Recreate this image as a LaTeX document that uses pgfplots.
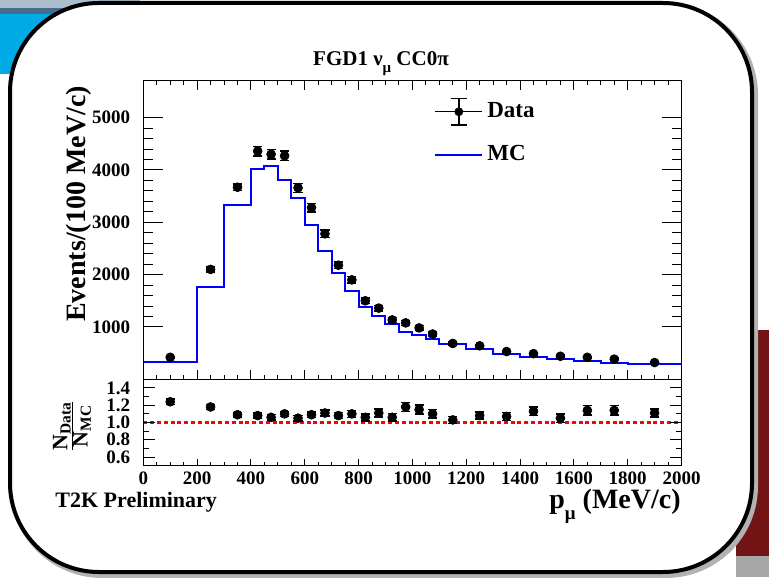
\documentclass[border=0pt]{standalone}
\usepackage{fontspec}
\setmainfont{Liberation Serif}
\usepackage{pgfplots}
\pgfplotsset{compat=1.18}

\definecolor{rootblue}{RGB}{0,0,255}
\definecolor{rootred}{RGB}{255,0,0}
\definecolor{bgcyan}{RGB}{0,170,230}
\definecolor{bgsteel}{RGB}{70,110,140}
\definecolor{bgred}{RGB}{115,20,20}

% data points: momentum, events/(100 MeV/c), error
\pgfplotstableread{
x y e
100 420 15
250 2100 46
350 3670 61
425 4360 93
475 4300 93
525 4270 92
575 3660 86
625 3280 81
675 2780 75
725 2180 66
775 1900 62
825 1500 55
875 1360 52
925 1135 48
975 1078 46
1025 982 44
1075 865 42
1150 685 26
1250 640 25
1350 530 23
1450 490 22
1550 440 21
1650 420 20
1750 385 20
1900 320 13
}\datatab

% MC histogram, left bin edges
\pgfplotstableread{
x y
0 340
200 1770
300 3330
400 4015
450 4070
500 3810
550 3460
600 2950
650 2460
700 2027
750 1695
800 1390
850 1217
900 1050
950 905
1000 850
1050 770
1100 670
1200 575
1300 485
1400 435
1500 395
1600 350
1700 318
1800 292
2000 292
}\mctab

% ratio data / MC
\pgfplotstableread{
x r e
100 1.24 0.03
250 1.18 0.03
350 1.09 0.025
425 1.08 0.03
475 1.06 0.03
525 1.10 0.03
575 1.05 0.03
625 1.09 0.03
675 1.11 0.035
725 1.08 0.035
775 1.10 0.04
825 1.06 0.04
875 1.11 0.045
925 1.06 0.045
975 1.18 0.05
1025 1.15 0.05
1075 1.10 0.05
1150 1.03 0.04
1250 1.08 0.04
1350 1.07 0.045
1450 1.13 0.05
1550 1.05 0.05
1650 1.14 0.055
1750 1.14 0.055
1900 1.11 0.045
}\ratiotab

\pgfplotsset{
  rootframe/.style={
    scale only axis,
    width=269.1pt,
    xmin=0, xmax=2000,
    axis line style={line width=0.5pt, black},
    tick style={line width=0.5pt, black},
    tick align=inside,
    ticklabel style={font=\fontsize{9.5}{10}\selectfont\bfseries,
      /pgf/number format/assume math mode=true,
      /pgf/number format/1000 sep={}},
  },
  databars/.style={
    only marks, mark=*, mark size=2.2pt, black,
    error bars/.cd, y dir=both, y explicit,
    error bar style={line width=0.75pt, black},
    error mark options={rotate=90, mark size=2.3pt, line width=0.75pt, black},
  },
}

\begin{document}
\begin{tikzpicture}
\useasboundingbox (0,0) rectangle (384.5pt,-288.5pt);
\fill[white] (0,0) rectangle (384.5pt,-288.5pt);
% screenshot background around the frame
\fill[bgsteel!45!white] (0,0) rectangle (70pt,-4pt);
\fill[bgsteel] (0,-4pt) rectangle (70pt,-7pt);
\fill[bgcyan] (0,-7pt) rectangle (70pt,-37pt);
\fill[bgred] (368pt,-165pt) rectangle (384.5pt,-278pt);
\fill[gray!70] (368pt,-278pt) rectangle (384.5pt,-288.5pt);
\draw[gray!60, line width=3pt, rounded corners=44.5pt] (6.5pt,-3pt) rectangle (377.5pt,-287.5pt);
\draw[black, line width=2pt, fill=white, rounded corners=44.5pt] (5pt,-1.5pt) rectangle (376pt,-286pt);

% main panel: data, x ticks
\begin{axis}[rootframe,
  at={(71.65pt,-40.5pt)}, anchor=north west,
  height=149.15pt, ymin=0, ymax=5700,
  xtick={0,200,...,2000}, minor x tick num=3, xticklabels={},
  xtick pos=both, ytick=\empty,
  major tick length=4.5pt, minor tick length=2.25pt,
  reverse legend,
  legend style={at={(axis cs:1080,4709)}, anchor=west, draw=none, fill=none,
    inner sep=0pt, font=\fontsize{11.5}{13}\selectfont\bfseries,
    row sep=8pt, cells={anchor=west}},
]
\addplot[const plot, rootblue, line width=1pt, mark=none,
  legend image code/.code={\draw[rootblue, line width=1pt] (0pt,0pt) -- (23.5pt,0pt);}]
  table[x=x, y=y] {\mctab};
\addlegendentry{MC}
\addplot[
  legend image code/.code={
    \draw[black, line width=0.75pt] (0pt,0pt) -- (23.5pt,0pt);
    \draw[black, line width=0.75pt] (11.75pt,-6.6pt) -- (11.75pt,6.6pt);
    \draw[black, line width=0.75pt] (7.75pt,-6.6pt) -- (15.75pt,-6.6pt);
    \draw[black, line width=0.75pt] (7.75pt,6.6pt) -- (15.75pt,6.6pt);
    \fill[black] (11.75pt,0pt) circle (2pt);},
  databars]
  table[x=x, y=y, y error=e] {\datatab};
\addlegendentry{Data}
\end{axis}

% main panel: y ticks
\begin{axis}[rootframe,
  at={(71.65pt,-40.5pt)}, anchor=north west,
  height=149.15pt, ymin=0, ymax=5700,
  xtick=\empty,
  ytick={1000,2000,3000,4000,5000}, minor y tick num=4, ytick pos=both,
  major tick length=10pt, minor tick length=5pt,
  yticklabel style={xshift=-3pt},
]
\end{axis}

% ratio panel: data, x ticks
\begin{axis}[rootframe,
  at={(71.65pt,-189.65pt)}, anchor=north west,
  height=43.2pt, ymin=0.5, ymax=1.5,
  xtick={0,200,...,2000}, minor x tick num=3, xtick pos=bottom,
  ytick=\empty,
  major tick length=3.5pt, minor tick length=1.75pt,
  xticklabel style={yshift=0.6pt},
]
\addplot[rootred, line width=1.6pt, dash pattern=on 2pt off 1.4pt]
  coordinates {(0,1) (2000,1)};
\addplot[databars] table[x=x, y=r, y error=e] {\ratiotab};
\end{axis}

% ratio panel: y ticks
\begin{axis}[rootframe,
  at={(71.65pt,-189.65pt)}, anchor=north west,
  height=43.2pt, ymin=0.5, ymax=1.5,
  xtick=\empty,
  ytick={0.6,0.8,1.0,1.2,1.4}, yticklabels={0.6,0.8,1.0,1.2,1.4},
  minor y tick num=1, ytick pos=both,
  major tick length=6pt, minor tick length=3pt,
  yticklabel style={xshift=-3pt},
]
\end{axis}

% titles and labels
\node[anchor=base, inner sep=0pt, font=\fontsize{10.5}{12}\selectfont\bfseries]
  at (190.5pt,-33pt) {FGD1 ν\raisebox{-0.3em}{\fontsize{7.5}{8}\selectfont μ} CC0π};
\node[rotate=90, anchor=base, inner sep=0pt, font=\fontsize{14}{16}\selectfont\bfseries]
  at (42.5pt,-102pt) {Events/(100 MeV/c)};
\node[rotate=90, inner sep=0pt, font=\fontsize{11}{12}\selectfont\bfseries]
  at (36pt,-213pt) {$\frac{\hbox{\bfseries N\textsubscript{Data}}}{\hbox{\bfseries N\textsubscript{MC}}}$};
\node[anchor=base east, inner sep=0pt, font=\fontsize{14}{16}\selectfont\bfseries]
  at (340.5pt,-254pt) {p\raisebox{-0.4em}{\fontsize{9.5}{10}\selectfont μ} (MeV/c)};
\node[anchor=base west, inner sep=0pt, font=\fontsize{11}{13}\selectfont\bfseries]
  at (27.5pt,-253.5pt) {T2K Preliminary};
\end{tikzpicture}
\end{document}
